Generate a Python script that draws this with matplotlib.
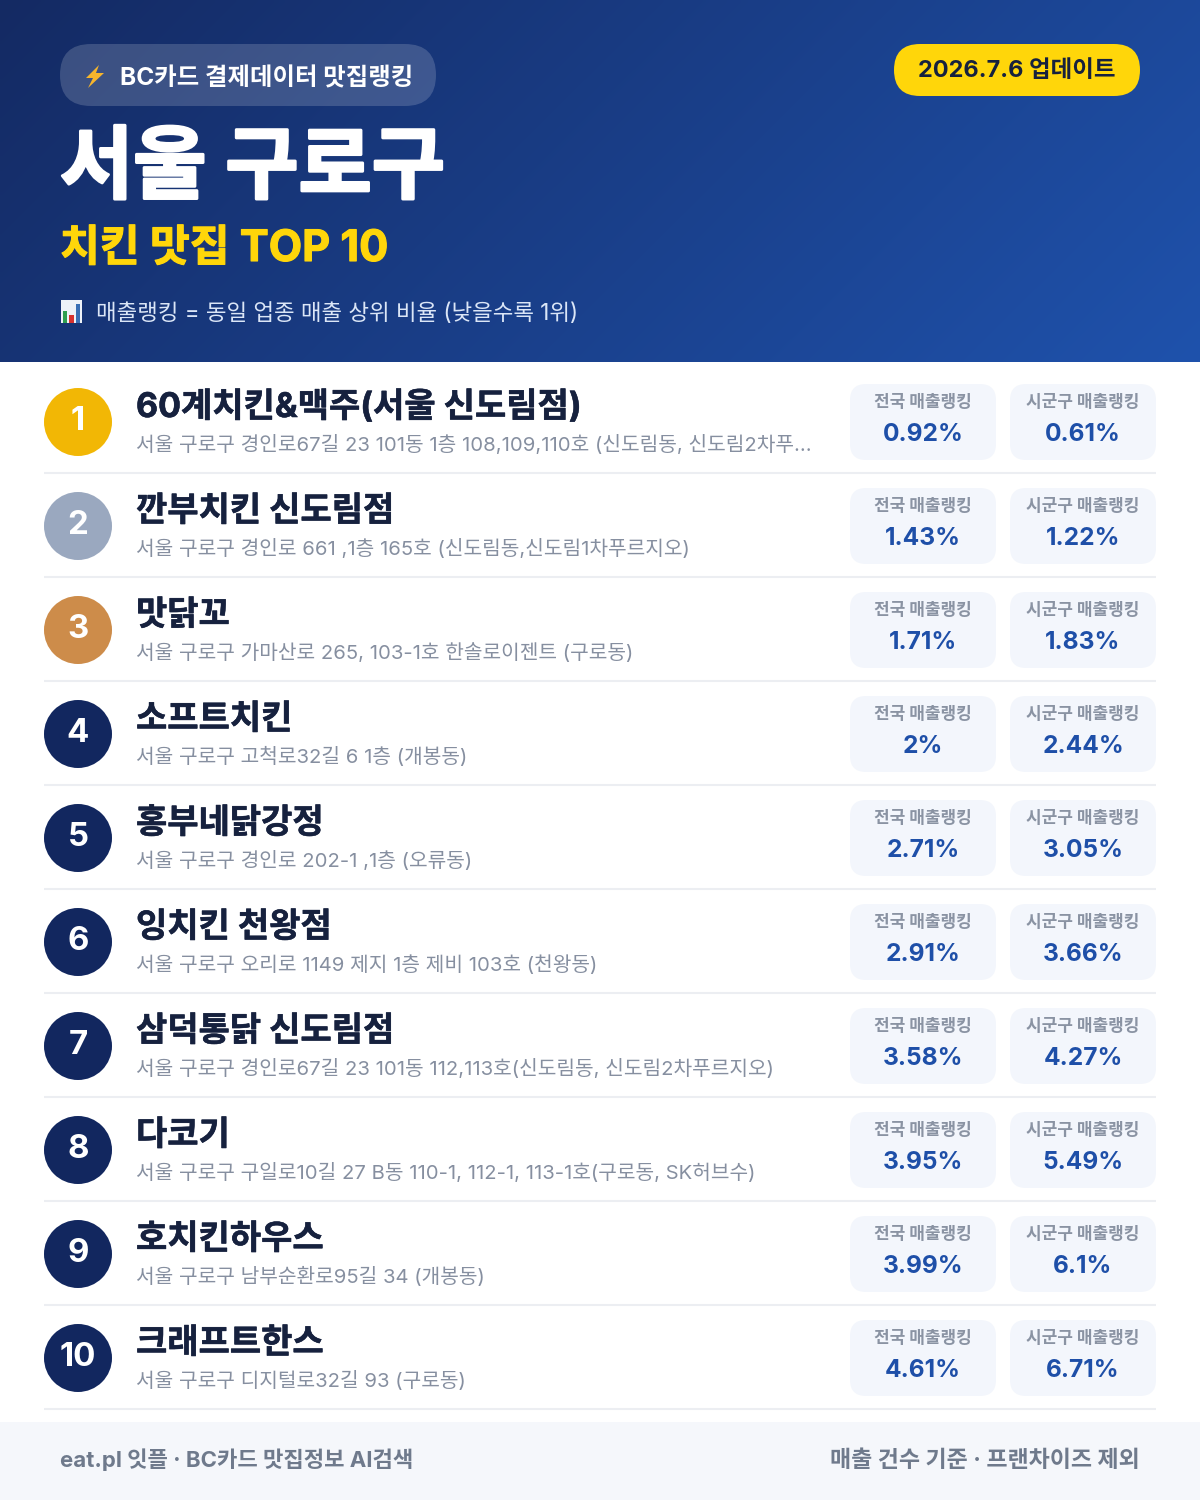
import numpy as np
import matplotlib
matplotlib.use("Agg")
import matplotlib.pyplot as plt
import matplotlib.patheffects as pe
from matplotlib.patches import FancyBboxPatch, Circle, Polygon, Rectangle

plt.rcParams['font.family'] = ['Inter', 'Noto Sans CJK KR', 'DejaVu Sans']

ranks = [1, 2, 3, 4, 5, 6, 7, 8, 9, 10]
names = ["60계치킨&맥주(서울 신도림점)", "깐부치킨 신도림점", "맛닭꼬", "소프트치킨", "홍부네닭강정",
         "잉치킨 천왕점", "삼덕통닭 신도림점", "다코기", "호치킨하우스", "크래프트한스"]
addresses = [
    "서울 구로구 경인로67길 23 101동 1층 108,109,110호 (신도림동, 신도림2차푸…",
    "서울 구로구 경인로 661 ,1층 165호 (신도림동,신도림1차푸르지오)",
    "서울 구로구 가마산로 265, 103-1호 한솔로이젠트 (구로동)",
    "서울 구로구 고척로32길 6 1층 (개봉동)",
    "서울 구로구 경인로 202-1 ,1층 (오류동)",
    "서울 구로구 오리로 1149 제지 1층 제비 103호 (천왕동)",
    "서울 구로구 경인로67길 23 101동 112,113호(신도림동, 신도림2차푸르지오)",
    "서울 구로구 구일로10길 27 B동 110-1, 112-1, 113-1호(구로동, SK허브수)",
    "서울 구로구 남부순환로95길 34 (개봉동)",
    "서울 구로구 디지털로32길 93 (구로동)",
]
national = [0.92, 1.43, 1.71, 2, 2.71, 2.91, 3.58, 3.95, 3.99, 4.61]
district = [0.61, 1.22, 1.83, 2.44, 3.05, 3.66, 4.27, 5.49, 6.1, 6.71]
badge_colors = ["#f2b705", "#9aa8bf", "#cd8c4a"] + ["#12275f"] * 7

NAVY = "#16213e"
BLUE = "#1e4fa8"


def px(size):
    # font size in image pixels -> points at dpi 100
    return size * 0.72


def heavy(color, w=0.6):
    # the installed CJK font stops at bold, thicken it a bit
    return [pe.withStroke(linewidth=w, foreground=color)]


fig = plt.figure(figsize=(12, 15), dpi=100)
ax = fig.add_axes([0, 0, 1, 1])
ax.set_xlim(0, 1200)
ax.set_ylim(1500, 0)
ax.axis("off")

# header gradient, dark top left to lighter bottom right
gx, gy = np.meshgrid(np.linspace(0, 1, 300), np.linspace(0, 1, 90))
t = (gx * 1200 + gy * 362) / (1200 + 362)
c0 = np.array([0x14, 0x2a, 0x63]) / 255
c1 = np.array([0x1f, 0x52, 0xac]) / 255
grad = c0 + (c1 - c0) * t[..., None]
ax.imshow(grad, extent=[0, 1200, 362, 0], aspect="auto", zorder=0, interpolation="bilinear")
ax.set_xlim(0, 1200)
ax.set_ylim(1500, 0)

# top pills
ax.add_patch(FancyBboxPatch((60 + 31, 44 + 31), 376 - 62, 0, boxstyle="round,pad=31",
                            fc="#ffffff", alpha=0.17, ec="none", zorder=1))
ax.add_patch(FancyBboxPatch((894 + 26, 44 + 26), 246 - 52, 0, boxstyle="round,pad=26",
                            fc="#ffd60a", ec="none", zorder=1))

# lightning icon
ax.add_patch(Polygon([(99, 65), (86, 78), (93, 78), (88, 88), (104, 73), (96, 73)],
                     closed=True, fc="#f7b52c", ec="none", zorder=2))

ax.text(120, 85, "BC카드 결제데이터 맛집랭킹", fontsize=px(24.4), fontweight="bold", color="white", zorder=3)
ax.text(1017, 77, "2026.7.6 업데이트", fontsize=px(23.5), fontweight="bold", color=NAVY,
        ha="center", zorder=3)
ax.text(60, 192, "서울 구로구", fontsize=px(79.6), fontweight="bold", color="white", zorder=3,
        path_effects=heavy("white", 2.0))
ax.text(60, 261, "치킨 맛집 TOP 10", fontsize=px(43.3), fontweight="bold", color="#ffd60a", zorder=3,
        path_effects=heavy("#ffd60a", 0.8))

# little bar chart icon
ax.add_patch(Rectangle((61, 300), 21, 23, fc="#eef2f8", ec="none", zorder=2))
ax.add_patch(Rectangle((63, 311), 4, 12, fc="#2e9e4f", ec="none", zorder=3))
ax.add_patch(Rectangle((69, 315), 5, 8, fc="#d8322f", ec="none", zorder=3))
ax.add_patch(Rectangle((76, 304), 4, 19, fc="#3a6fb5", ec="none", zorder=3))
ax.text(96, 320, "매출랭킹 = 동일 업종 매출 상위 비율 (낮을수록 1위)", fontsize=px(22.4),
        color="#dbe6f7", zorder=3)

# rows
for i, rank in enumerate(ranks):
    dy = 104 * i
    ax.add_patch(Circle((78, 422 + dy), 34, fc=badge_colors[i], ec="none", zorder=2))
    ax.text(78, 430 + dy, str(rank), fontsize=px(33), fontweight="bold", color="white",
            ha="center", zorder=3)
    ax.text(136, 417 + dy, names[i], fontsize=px(34), fontweight="bold", color=NAVY, zorder=3,
            path_effects=heavy(NAVY, 0.4))
    ax.text(136, 451 + dy, addresses[i], fontsize=px(20.25), color="#868fa0", zorder=3)

    for x0, w, label, v in [(850, 146, "전국 매출랭킹", national[i]), (1010, 146, "시군구 매출랭킹", district[i])]:
        ax.add_patch(FancyBboxPatch((x0 + 16, 384 + dy + 16), w - 32, 76 - 32, boxstyle="round,pad=16",
                                    fc="#f3f6fc", ec="none", zorder=2))
        ax.text(x0 + w / 2, 407.4 + dy, label, fontsize=px(17), fontweight="bold", color="#8a93a3",
                ha="center", zorder=3)
        ax.text(x0 + w / 2, 441 + dy, f"{v:g}%", fontsize=px(24.5), fontweight="bold", color=BLUE,
                ha="center", zorder=3)

    ax.plot([44, 1156], [473 + dy, 473 + dy], color="#eceef2", lw=1.5, solid_capstyle="butt", zorder=1)

# footer
ax.add_patch(Rectangle((0, 1422), 1200, 78, fc="#f5f7fb", ec="none", zorder=1))
ax.text(60, 1467, "eat.pl 잇플 · BC카드 맛집정보 AI검색", fontsize=px(22.2), fontweight="bold",
        color="#6f7a8c", zorder=3)
ax.text(1140, 1467, "매출 건수 기준 · 프랜차이즈 제외", fontsize=px(23), fontweight="bold",
        color="#6f7a8c", ha="right", zorder=3)

fig.savefig("out.png", dpi=100, facecolor="white")
